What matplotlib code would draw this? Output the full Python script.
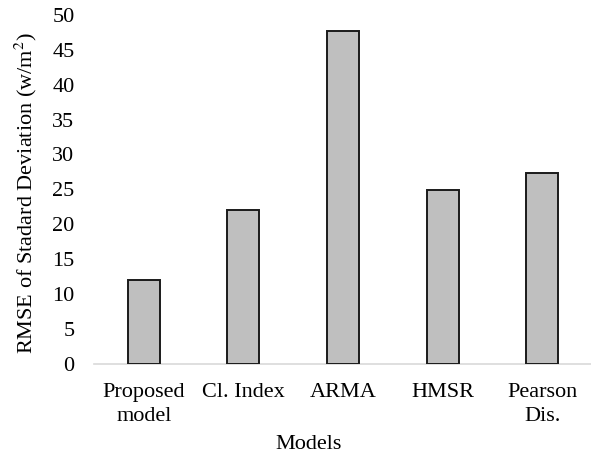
import matplotlib
matplotlib.use("Agg")
import matplotlib.pyplot as plt

categories = ["Proposed\nmodel", "Cl. Index", "ARMA", "HMSR", "Pearson\nDis."]
values = [12.0, 22.1, 47.7, 24.9, 27.4]
yticks = [0, 5, 10, 15, 20, 25, 30, 35, 40, 45, 50]

plt.rcParams['font.family'] = ['Liberation Serif', 'DejaVu Serif']
plt.rcParams['mathtext.fontset'] = 'stix'

fig = plt.figure(figsize=(5.91, 4.55), dpi=100)
ax = fig.add_axes([0.159, 0.2007, 0.843, 0.7663])

x = range(len(categories))
ax.bar(x, values, width=0.32, color="#BFBFBF", edgecolor="#1a1a1a", linewidth=1.4, zorder=3)

ax.set_xlim(-0.5, len(categories) - 0.5)
ax.set_ylim(0, 50)
ax.set_yticks(yticks)
ax.set_yticklabels([str(t) for t in yticks])
ax.set_xticks(list(x))
ax.set_xticklabels(categories, linespacing=1.35)

for s in ["top", "right", "left"]:
    ax.spines[s].set_visible(False)
ax.spines["bottom"].set_color("#D9D9D9")
ax.spines["bottom"].set_linewidth(1.2)

ax.tick_params(axis="both", length=0, labelsize=16)
ax.tick_params(axis="y", pad=14)
ax.tick_params(axis="x", pad=14)

ax.set_xlabel("Models", fontsize=16)
ax.xaxis.set_label_coords(0.43, -0.205)
ax.set_ylabel("RMSE of Stadard Deviation (w/m$^2$)", fontsize=16)
ax.yaxis.set_label_coords(-0.111, 0.49)

fig.savefig("out.png", dpi=100)
